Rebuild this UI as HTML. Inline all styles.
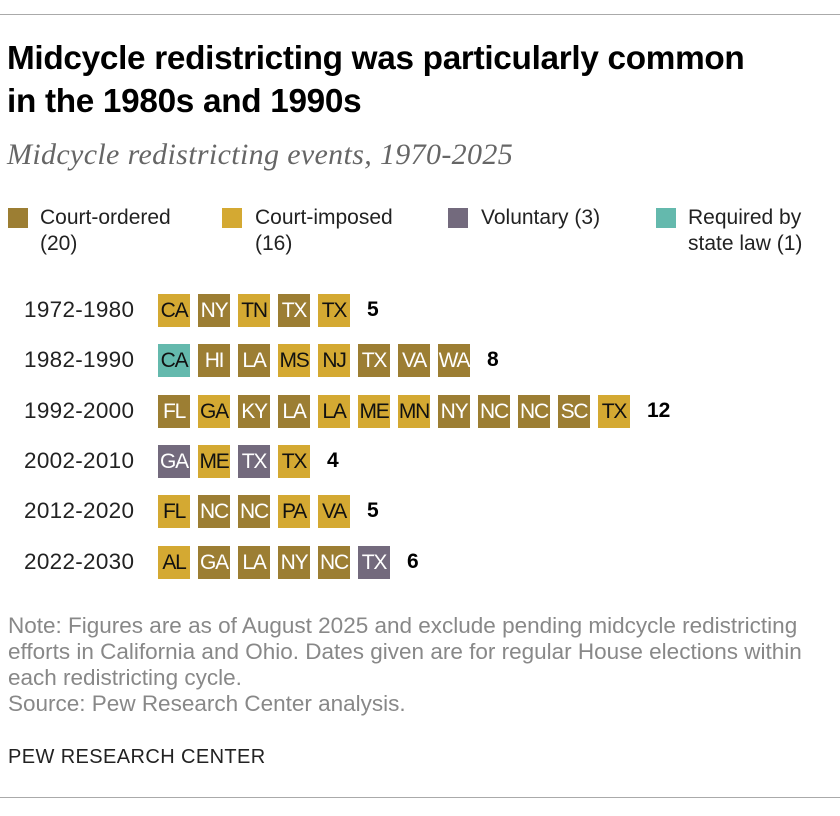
<!DOCTYPE html>
<html><head><meta charset="utf-8"><style>
body{margin:0;background:#fff;width:840px;height:816px;position:relative;font-family:"Liberation Sans",sans-serif;overflow:hidden}
.abs{position:absolute}
.rule{position:absolute;left:0;width:840px;height:1px;background:#aaa}
h1{position:absolute;left:7px;top:37px;margin:0;font-size:33.3px;line-height:43px;font-weight:bold;color:#000;letter-spacing:-0.3px}
.sub{left:7px;top:138px;font-family:"Liberation Serif",serif;font-style:italic;font-size:30px;color:#666;letter-spacing:0.35px}
.leg{font-size:21px;color:#222;line-height:26px}
.sw{position:absolute;width:20px;height:20px}
.row{position:absolute;left:24px;font-size:22.5px;color:#222;letter-spacing:0.3px}
.tile{position:absolute;width:32px;height:33px;font-size:21px;text-align:center;line-height:33px;letter-spacing:-1.2px;overflow:hidden;white-space:nowrap}
.cnt{position:absolute;font-weight:bold;font-size:21px;color:#000}
.note{left:8px;top:613px;font-size:22.5px;color:#888;line-height:26px}
</style></head><body>
<div class="rule" style="top:14px"></div>
<h1>Midcycle redistricting was particularly common<br>in the 1980s and 1990s</h1>
<div class="abs sub">Midcycle redistricting events, 1970-2025</div>
<div>
<div class="sw" style="left:8px;top:208px;background:#9C7E33"></div>
<div class="abs leg" style="left:40px;top:205px">Court-ordered<br>(20)</div>
<div class="sw" style="left:222px;top:208px;background:#D4A932"></div>
<div class="abs leg" style="left:255px;top:205px">Court-imposed<br>(16)</div>
<div class="sw" style="left:448px;top:208px;background:#736A7D"></div>
<div class="abs leg" style="left:481px;top:205px">Voluntary (3)</div>
<div class="sw" style="left:656px;top:208px;background:#64B9AD"></div>
<div class="abs leg" style="left:688px;top:205px">Required by<br>state law (1)</div>
</div>
<div id="chart"></div>
<div class="abs note">Note: Figures are as of August 2025 and exclude pending midcycle redistricting<br>efforts in California and Ohio. Dates given are for regular House elections within<br>each redistricting cycle.<br>Source: Pew Research Center analysis.</div>
<div class="abs" style="left:8px;top:746px;font-size:20px;color:#222;letter-spacing:0.4px">PEW RESEARCH CENTER</div>
<div class="rule" style="top:797px"></div>
<script>
const cycles=["1972-1980","1982-1990","1992-2000","2002-2010","2012-2020","2022-2030"];
const states=[["CA","NY","TN","TX","TX"],["CA","HI","LA","MS","NJ","TX","VA","WA"],["FL","GA","KY","LA","LA","ME","MN","NY","NC","NC","SC","TX"],["GA","ME","TX","TX"],["FL","NC","NC","PA","VA"],["AL","GA","LA","NY","NC","TX"]];
const types=[["i","o","i","o","i"],["s","o","o","i","i","o","o","o"],["o","i","o","o","i","i","i","o","o","o","o","i"],["v","i","v","i"],["i","o","o","i","i"],["i","o","o","o","o","v"]];
const colors={o:"#9C7E33",i:"#D4A932",v:"#736A7D",s:"#64B9AD"};
const textColors={o:"#fff",i:"#111",v:"#fff",s:"#111"};
const chart=document.getElementById('chart');
const rowY=i=>294+i*50.3, tileX=j=>158+j*40;
cycles.forEach((c,i)=>{
  const l=document.createElement('div');l.className='row';l.style.top=(rowY(i)+3)+'px';l.textContent=c;
  
  
  chart.appendChild(l);
  states[i].forEach((s,j)=>{
    const t=document.createElement('div');t.className='tile';
    t.style.left=tileX(j)+'px';t.style.top=rowY(i)+'px';
    t.style.background=colors[types[i][j]];t.style.color=textColors[types[i][j]];
    t.textContent=s;
    
    
    chart.appendChild(t);
  });
  const n=document.createElement('div');n.className='cnt';
  n.style.left=(tileX(states[i].length-1)+32+17)+'px';n.style.top=(rowY(i)+4)+'px';
  n.textContent=states[i].length;
  
  
  chart.appendChild(n);
});
</script>
</body></html>
